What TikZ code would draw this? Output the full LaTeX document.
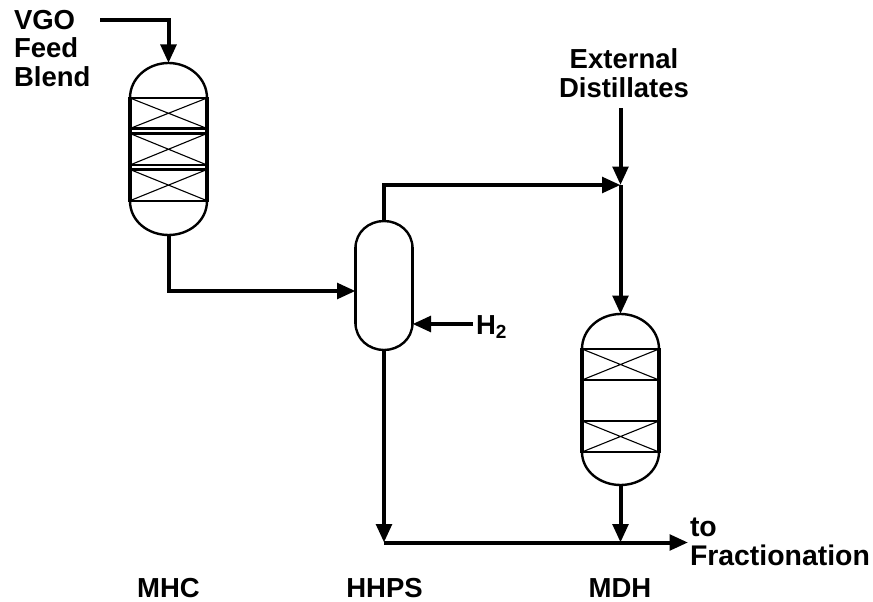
\documentclass[tikz,border=0pt]{standalone}
\usepackage{fontspec}
\setmainfont{Liberation Sans}
\usetikzlibrary{arrows.meta}
\tikzset{
  x=1pt,y=-1pt,
  vessel/.style={inner sep=0pt,outer sep=0pt,draw=none,rectangle},
  shell/.style={line width=3.2pt,black},
  head/.style={line width=2.4pt,black},
  bedline/.style={line width=2.2pt,black},
  cross/.style={line width=1.1pt,black},
  pipe/.style={line width=4pt,black,line join=miter},
  flow/.style={pipe,-{Triangle[length=18.5pt,width=15.5pt]}},
  lab/.style={font=\bfseries\fontsize{27.5}{29}\selectfont,text=black,inner sep=0pt,outer sep=0pt},
}
\begin{document}
\begin{tikzpicture}
\useasboundingbox (0,0) rectangle (873,602);
% vessels
\node[vessel,minimum width=77pt,minimum height=172pt] (mhc) at (168.5,149) {};
\node[vessel,minimum width=57pt,minimum height=129pt] (hhps) at (384,285.5) {};
\node[vessel,minimum width=77pt,minimum height=171pt] (mdh) at (620.5,399.5) {};
% outlines
\draw[head] (130,98) .. controls (130,78) and (148,63) .. (mhc.north)
  .. controls (189,63) and (207,78) .. (207,98);
\draw[head] (207,201) .. controls (207,221) and (189,235) .. (mhc.south)
  .. controls (148,235) and (130,221) .. (130,201);
\draw[shell] (130,97) -- (130,202) (207,97) -- (207,202);
\draw[head] (355.5,248) .. controls (355.5,232) and (369,221) .. (hhps.north)
  .. controls (399,221) and (412.5,232) .. (412.5,248);
\draw[head] (412.5,323) .. controls (412.5,339) and (399,350) .. (hhps.south)
  .. controls (369,350) and (355.5,339) .. (355.5,323);
\draw[head] (355.5,247) -- (355.5,324) (412.5,247) -- (412.5,324);
\draw[head] (582,349) .. controls (582,329) and (600,314) .. (mdh.north)
  .. controls (641,314) and (659,329) .. (659,349);
\draw[head] (659,452) .. controls (659,471) and (641,485) .. (mdh.south)
  .. controls (600,485) and (582,471) .. (582,452);
\draw[shell] (582,348) -- (582,453) (659,348) -- (659,453);
% beds
\foreach \a/\b in {98/128.5,133.5/165,169.5/200.7}{
  \draw[bedline] (130,\a) -- (207,\a) (130,\b) -- (207,\b);
  \draw[cross] (130,\a) -- (207,\b) (207,\a) -- (130,\b);
}
\foreach \a/\b in {349/380,421/452}{
  \draw[bedline] (582,\a) -- (659,\a) (582,\b) -- (659,\b);
  \draw[cross] (582,\a) -- (659,\b) (659,\a) -- (582,\b);
}
% labels
\node[lab,align=left,anchor=base west] (feed) at (14,87) {VGO\\Feed\\Blend};
\node[lab,align=center,anchor=base] (ext) at (624,97.7) {External\\Distillates};
\node[lab,anchor=base west] (h2) at (476,334) {H\raisebox{-4.5pt}{\fontsize{19}{19}\selectfont 2}};
\node[lab,font=\bfseries\fontsize{28.4}{28.4}\selectfont,align=left,anchor=base west] (frac) at (690,565) {to\\Fractionation};
\node[lab,anchor=base] (lmhc) at (168.5,597) {MHC};
\node[lab,anchor=base] (lhhps) at (384.5,597) {HHPS};
\node[lab,anchor=base] (lmdh) at (620,597) {MDH};
% junctions and free ends
\coordinate (feedstart) at (100,20.5);
\coordinate (mix) at (620.5,185);
\coordinate (extstart) at (620.5,108);
\coordinate (hstart) at (473,324);
\coordinate (joinL) at (384,542.5);
\coordinate (joinR) at (620.5,542.5);
\coordinate (fracend) at (688,542.5);
% connectors
\draw[flow] (feedstart) -| (mhc.north);
\draw[flow] (mhc.south) |- (hhps.west |- 0,291);
\draw[flow] (hhps.north) |- (mix);
\draw[flow] (extstart) -- (mix);
\draw[flow] (mix) -- (mdh.north);
\draw[flow] (hstart) -- (hhps.east |- hstart);
\draw[flow] (hhps.south) -- (joinL);
\draw[flow] (mdh.south) -- (joinR);
\draw[flow] (joinL) -- (fracend);
\end{tikzpicture}
\end{document}
